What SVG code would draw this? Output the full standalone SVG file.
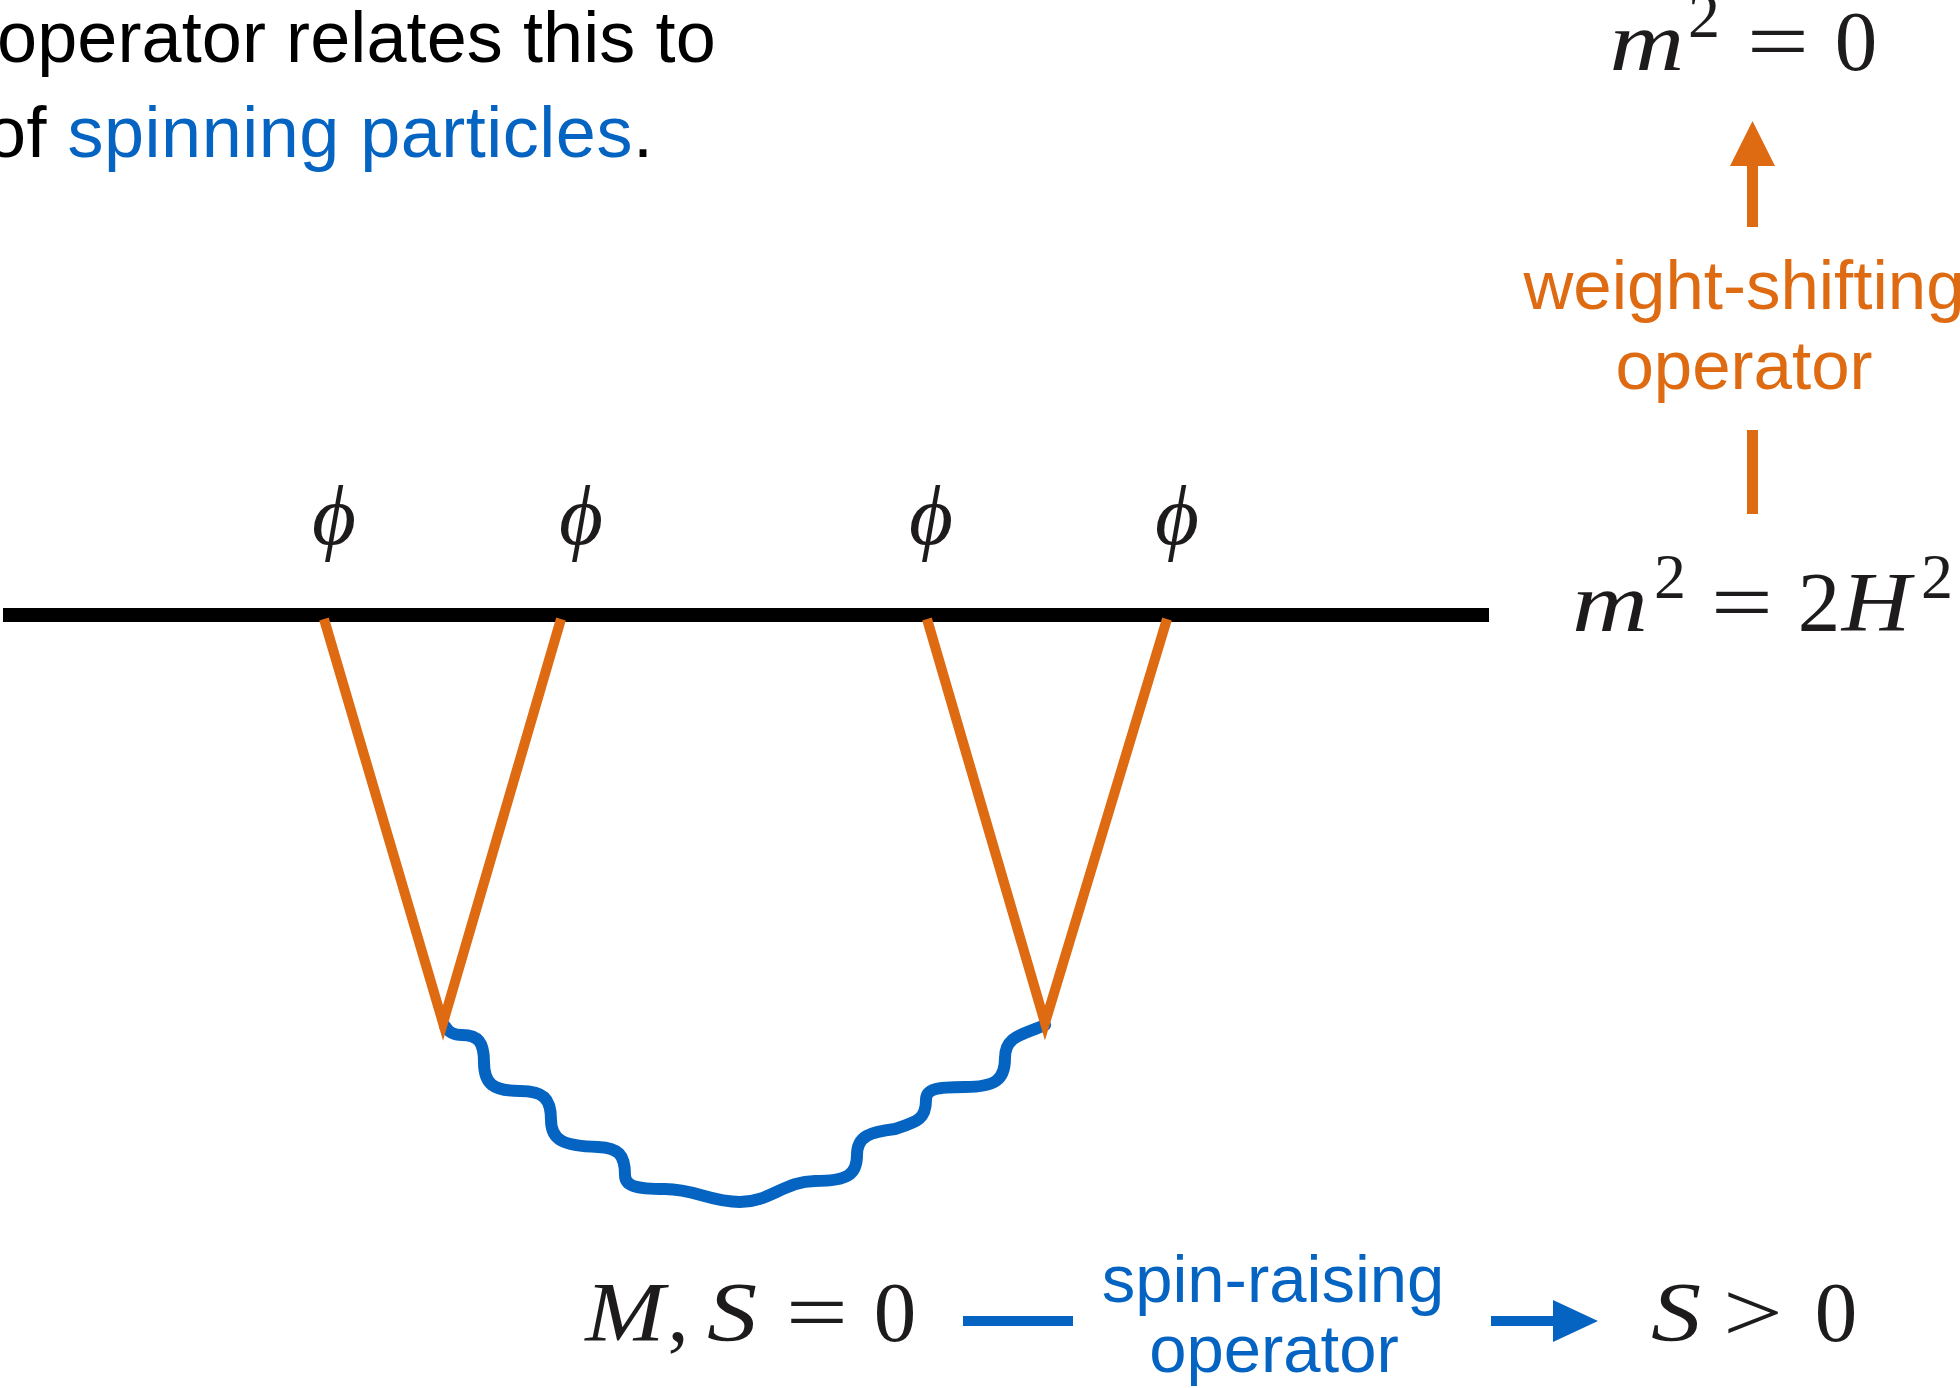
<svg xmlns="http://www.w3.org/2000/svg" width="1960" height="1388" viewBox="0 0 1960 1388">
<style>
.sans{font-family:"Liberation Sans","Helvetica Neue",Arial,sans-serif}
.math{font-family:"Liberation Serif","DejaVu Serif",serif;font-size:85px;fill:#1e1b1c;text-anchor:middle}
.it{font-style:italic}
.sup{font-size:64px}
.orange{fill:#de6a12}
.blue{fill:#0564c1}
.lbl{text-anchor:middle}
</style>
<rect width="1960" height="1388" fill="#ffffff"/>

<g id="intro-text" class="sans" font-size="72">
<text x="-3" y="62" fill="#000" letter-spacing="0.1">operator relates this to</text>
<text x="-14" y="157" fill="#000" letter-spacing="0.5">of <tspan fill="#0564c1">spinning particles</tspan>.</text>
</g>

<g id="connectors">
<path id="boundary" d="M3 615 H1489" stroke="#000" stroke-width="14" fill="none"/>
<path id="wavy" d="M445 1026 C449 1033 454 1035 462 1035 C478 1035 484 1042 484 1062 C484 1084 493 1091 520 1091 C543 1091 551 1098 551 1120 C551 1140 563 1146 598 1147 C618 1148 625 1154 625 1175 C625 1186 635 1189 665 1189 C695 1189 710 1202 740 1202 C770 1202 785 1181 815 1181 C847 1181 857 1175 857 1155 C857 1136 870 1132 895 1129 C916 1122 926 1120 926 1100 C926 1089 936 1087 965 1087 C995 1087 1005 1080 1005 1058 C1005 1036 1022 1035 1045 1025" stroke="#0564c1" stroke-width="12" fill="none" stroke-linecap="round" stroke-linejoin="round"/>
<polyline id="v-left" points="324,619 443,1023 561,619" stroke="#de6a12" stroke-width="10" fill="none" stroke-linejoin="miter"/>
<polyline id="v-right" points="927,619 1045,1023 1167,619" stroke="#de6a12" stroke-width="10" fill="none" stroke-linejoin="miter"/>
<g id="weight-arrow" class="orange">
<rect x="1747" y="164" width="11" height="63"/>
<polygon points="1752.5,121 1730,166 1775,166"/>
<rect x="1747" y="430" width="11" height="84"/>
</g>
<g id="spin-arrow" class="blue">
<rect x="963" y="1316" width="110" height="10"/>
<rect x="1491" y="1316" width="64" height="10"/>
<polygon points="1598,1321 1553,1300 1553,1342"/>
</g>
</g>

<g id="phi-labels" class="math it" font-size="118">
<text x="334" y="544">ϕ</text>
<text x="581" y="544">ϕ</text>
<text x="931" y="544">ϕ</text>
<text x="1177" y="544">ϕ</text>
</g>

<g id="m2-zero">
<text class="math it" transform="translate(1647 70) scale(1.22 1)">m</text>
<text class="math sup" x="1704" y="37">2</text>
<text class="math" transform="translate(1778 70) scale(1.3 1)">=</text>
<text class="math" x="1856" y="70">0</text>
</g>

<g id="m2-2H2">
<text class="math it" transform="translate(1610 631) scale(1.24 1)">m</text>
<text class="math sup" x="1670" y="598">2</text>
<text class="math" transform="translate(1742 631) scale(1.3 1)">=</text>
<text class="math" x="1819" y="631">2</text>
<text class="math it" transform="translate(1876 631) scale(1.12 1)">H</text>
<text class="math sup" x="1937" y="598">2</text>
</g>

<g id="weight-label" class="sans orange lbl" font-size="69">
<text x="1744" y="309">weight-shifting</text>
<text x="1744" y="389">operator</text>
</g>

<g id="MS0">
<text class="math it" transform="translate(625 1341) scale(1.12 1)">M</text>
<text class="math" x="678" y="1341">,</text>
<text class="math it" transform="translate(732 1341) scale(1.18 1)">S</text>
<text class="math" transform="translate(817 1341) scale(1.3 1)">=</text>
<text class="math" x="895" y="1341">0</text>
</g>

<g id="spin-label" class="sans blue lbl" font-size="67">
<text x="1273" y="1302">spin-raising</text>
<text x="1274" y="1372">operator</text>
</g>

<g id="S-gt-0">
<text class="math it" transform="translate(1676 1341) scale(1.18 1)">S</text>
<text class="math" transform="translate(1753 1341) scale(1.25 1)">&gt;</text>
<text class="math" x="1836" y="1341">0</text>
</g>
</svg>
